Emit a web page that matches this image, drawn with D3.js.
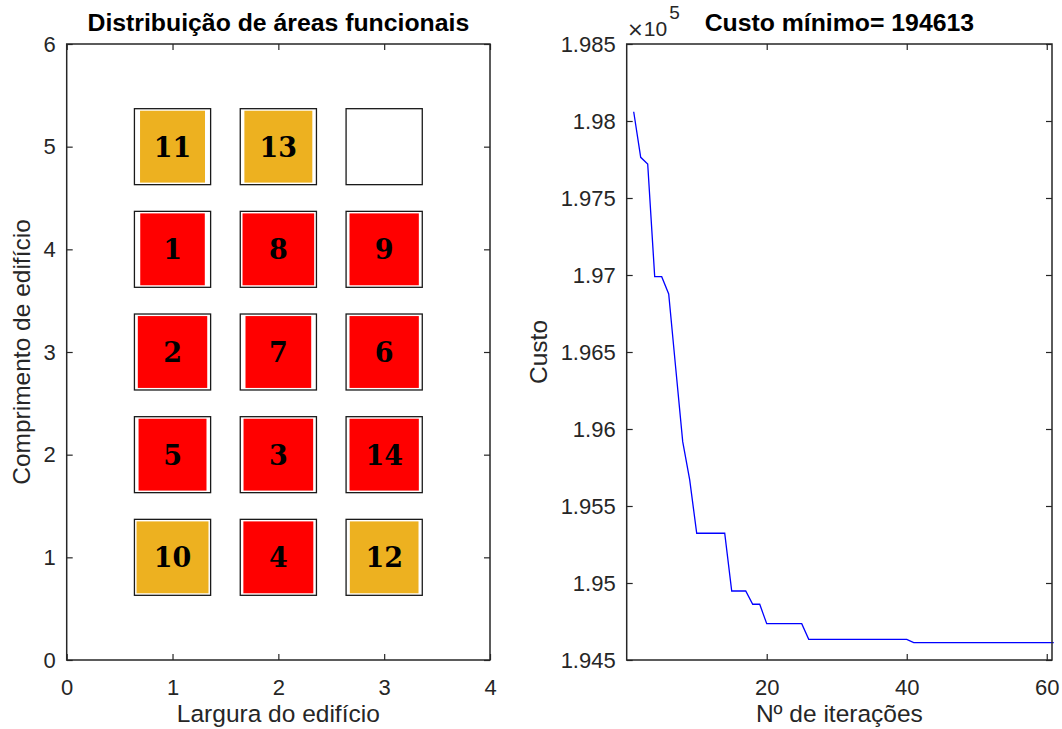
<!DOCTYPE html>
<html>
<head>
<meta charset="utf-8">
<script src="https://cdn.jsdelivr.net/npm/d3@7"></script>
<style>
  html, body { margin: 0; padding: 0; background: #fff; }
  svg { display: block; }
  .tick text { font-family: "Liberation Sans", Arial, sans-serif; font-size: 22px; fill: #262626; }
  .tick line { stroke: #262626; stroke-width: 1.2; }
  .lbl { font-family: "Liberation Sans", Arial, sans-serif; font-size: 24.5px; fill: #262626; }
  .ttl { font-family: "Liberation Sans", Arial, sans-serif; font-size: 24.8px; font-weight: bold; fill: #000; }
  .num { font-family: "DejaVu Serif", "Liberation Serif", serif; font-size: 27px; font-weight: bold; fill: #000; }
</style>
</head>
<body>
<script>
// ---- Layout of functional areas on the building grid ----
const areaIds    = [11, 13, null, 1, 8, 9, 2, 7, 6, 5, 3, 14, 10, 4, 12];
const cellCols   = [1, 2, 3, 1, 2, 3, 1, 2, 3, 1, 2, 3, 1, 2, 3];
const cellRows   = [5, 5, 5, 4, 4, 4, 3, 3, 3, 2, 2, 2, 1, 1, 1];
const areaWidths = [0.614, 0.642, 0, 0.610, 0.677, 0.655, 0.656, 0.621, 0.655, 0.642, 0.658, 0.655, 0.680, 0.661, 0.649];
const areaKinds  = ["apoio", "apoio", null, "principal", "principal", "principal",
                    "principal", "principal", "principal", "principal", "principal", "principal",
                    "apoio", "principal", "apoio"];
const kindColors = { principal: "#FF0000", apoio: "#EDB120" };
const cellSize   = [0.72, 0.74];   // outer slot (width, height) in grid units
const areaHeight = 0.70;

const gridXTicks = [0, 1, 2, 3, 4];
const gridYTicks = [0, 1, 2, 3, 4, 5, 6];

// ---- Cost per iteration ----
const iterations = d3.range(1, 62);
const costs = [
  198060, 197764, 197721, 196989, 196989, 196877, 196396, 195918, 195669, 195323,
  195323, 195323, 195323, 195323, 194948, 194948, 194948, 194862, 194862, 194736,
  194736, 194736, 194736, 194736, 194736, 194634, 194634, 194634, 194634, 194634,
  194634, 194634, 194634, 194634, 194634, 194634, 194634, 194634, 194634, 194634,
  194613, 194613, 194613, 194613, 194613, 194613, 194613, 194613, 194613, 194613,
  194613, 194613, 194613, 194613, 194613, 194613, 194613, 194613, 194613, 194613,
  194613
];
const costXTicks = [20, 40, 60];
const costYTicks = [194500, 195000, 195500, 196000, 196500, 197000, 197500, 198000, 198500];
const costYTickLabels = ["1.945", "1.95", "1.955", "1.96", "1.965", "1.97", "1.975", "1.98", "1.985"];

const W = 1062, H = 729;
const svg = d3.select("body").append("svg").attr("width", W).attr("height", H);

const plotTop = 44, plotBottom = 660;

function boxAxes(g, x, y, xt, yt, xFmt, yFmt) {
  const [x0, x1] = x.range();
  const [y1, y0] = y.range();
  g.append("g").attr("transform", `translate(0,${y1})`)
    .call(d3.axisBottom(x).tickValues(xt).tickSizeInner(-6).tickSizeOuter(0).tickPadding(19).tickFormat(xFmt))
    .call(s => s.select(".domain").remove());
  g.append("g").attr("transform", `translate(0,${y0})`)
    .call(d3.axisTop(x).tickValues(xt).tickSizeInner(-6).tickSizeOuter(0).tickFormat(""))
    .call(s => s.select(".domain").remove());
  g.append("g").attr("transform", `translate(${x0},0)`)
    .call(d3.axisLeft(y).tickValues(yt).tickSizeInner(-6).tickSizeOuter(0).tickPadding(11).tickFormat(yFmt))
    .call(s => s.select(".domain").remove());
  g.append("g").attr("transform", `translate(${x1},0)`)
    .call(d3.axisRight(y).tickValues(yt).tickSizeInner(-6).tickSizeOuter(0).tickFormat(""))
    .call(s => s.select(".domain").remove());
  g.append("rect")
    .attr("x", x0).attr("y", y0).attr("width", x1 - x0).attr("height", y1 - y0)
    .attr("fill", "none").attr("stroke", "#262626").attr("stroke-width", 1.5);
}

// ---------- Left panel: grid layout ----------
const xg = d3.scaleLinear().domain([0, 4]).range([66.7, 490]);
const yg = d3.scaleLinear().domain([0, 6]).range([plotBottom, plotTop]);
const left = svg.append("g");

const cells = areaIds.map((id, i) => ({
  id, col: cellCols[i], row: cellRows[i], w: areaWidths[i], kind: areaKinds[i]
}));

const cg = left.append("g").selectAll("g").data(cells).join("g");
cg.append("rect")
  .attr("x", d => xg(d.col - cellSize[0] / 2))
  .attr("y", d => yg(d.row + cellSize[1] / 2))
  .attr("width", xg(cellSize[0]) - xg(0))
  .attr("height", yg(0) - yg(cellSize[1]))
  .attr("fill", "#fff").attr("stroke", "#1a1a1a").attr("stroke-width", 1.3);
cg.filter(d => d.id !== null).append("rect")
  .attr("x", d => xg(d.col - d.w / 2))
  .attr("y", d => yg(d.row + areaHeight / 2))
  .attr("width", d => xg(d.w) - xg(0))
  .attr("height", yg(0) - yg(areaHeight))
  .attr("fill", d => kindColors[d.kind]);
cg.filter(d => d.id !== null).append("text")
  .attr("class", "num")
  .attr("x", d => xg(d.col))
  .attr("y", d => yg(d.row) + 10)
  .attr("text-anchor", "middle")
  .text(d => d.id);

boxAxes(left, xg, yg, gridXTicks, gridYTicks, d3.format("d"), d3.format("d"));

left.append("text").attr("class", "ttl").attr("x", (66.7 + 490) / 2).attr("y", 31)
  .attr("text-anchor", "middle").text("Distribuição de áreas funcionais");
left.append("text").attr("class", "lbl").attr("x", (66.7 + 490) / 2).attr("y", 722)
  .attr("text-anchor", "middle").text("Largura do edifício");
left.append("text").attr("class", "lbl")
  .attr("transform", `translate(30,${(plotTop + plotBottom) / 2}) rotate(-90)`)
  .attr("text-anchor", "middle").text("Comprimento de edifício");

// ---------- Right panel: cost convergence ----------
const xc = d3.scaleLinear().domain([0, 60.75]).range([626.7, 1052]);
const yc = d3.scaleLinear().domain([194500, 198500]).range([plotBottom, plotTop]);
const right = svg.append("g");

right.append("path")
  .datum(iterations.map((it, i) => [it, costs[i]]))
  .attr("fill", "none").attr("stroke", "#0000FF").attr("stroke-width", 1.3)
  .attr("d", d3.line().x(d => xc(d[0])).y(d => yc(d[1])));

boxAxes(right, xc, yc, costXTicks, costYTicks, d3.format("d"), (d, i) => costYTickLabels[i]);

const minCost = d3.min(costs);
right.append("text").attr("class", "ttl").attr("x", (626.7 + 1052) / 2).attr("y", 31)
  .attr("text-anchor", "middle").text(`Custo mínimo= ${minCost}`);
right.append("text").attr("class", "lbl").attr("x", (626.7 + 1052) / 2).attr("y", 722)
  .attr("text-anchor", "middle").text("Nº de iterações");
right.append("text").attr("class", "lbl")
  .attr("transform", `translate(547,${(plotTop + plotBottom) / 2}) rotate(-90)`)
  .attr("text-anchor", "middle").text("Custo");

// exponent marker for the cost axis
const expo = right.append("text")
  .attr("x", 627).attr("y", 36)
  .style("font-family", "'Liberation Sans', Arial, sans-serif").style("fill", "#262626");
expo.append("tspan").style("font-family", "'DejaVu Sans', sans-serif").style("font-size", "20px").text("×");
expo.append("tspan").style("font-size", "21px").attr("dx", 0).text("10");
expo.append("tspan").style("font-size", "19px").attr("dx", 2).attr("dy", -17).text("5");
</script>
</body>
</html>
